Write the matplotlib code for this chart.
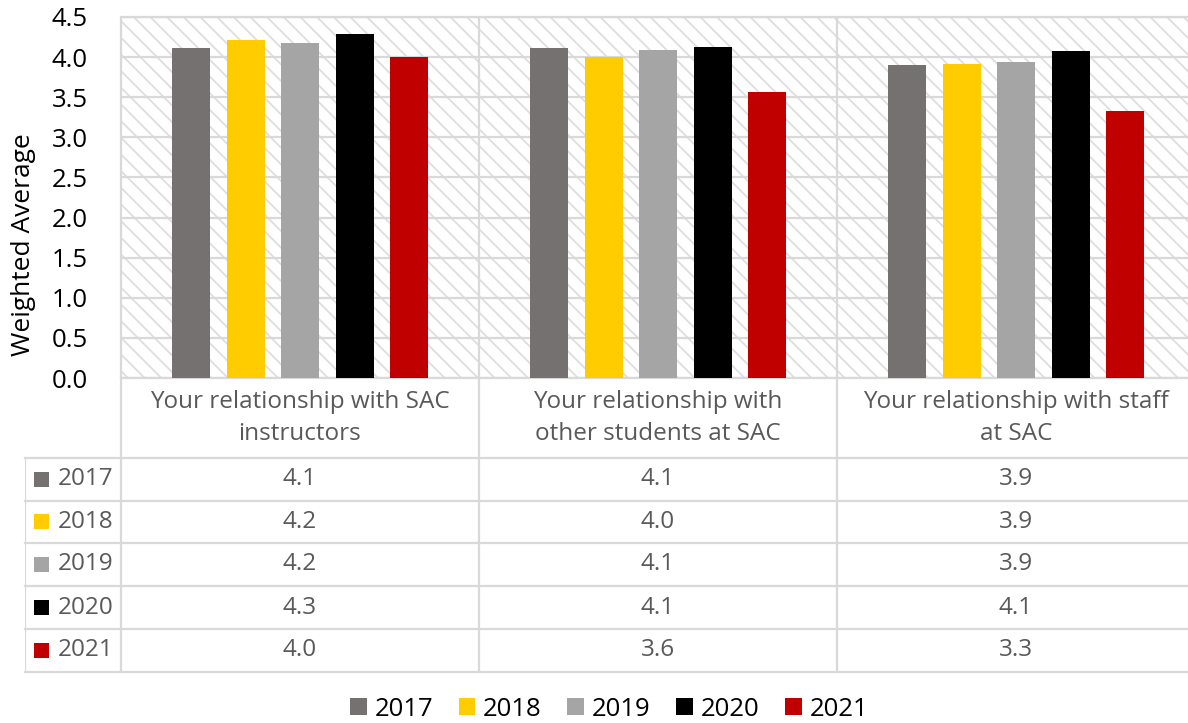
import numpy as np
import matplotlib
matplotlib.use("Agg")
import matplotlib.pyplot as plt
from matplotlib.patches import Rectangle

# data
categories = ["Your relationship with SAC\ninstructors",
              "Your relationship with\nother students at SAC",
              "Your relationship with staff\nat SAC"]
years = ["2017", "2018", "2019", "2020", "2021"]
v2017 = [4.11, 4.11, 3.90]
v2018 = [4.21, 4.00, 3.91]
v2019 = [4.17, 4.09, 3.94]
v2020 = [4.29, 4.12, 4.08]
v2021 = [4.00, 3.57, 3.33]
series = [v2017, v2018, v2019, v2020, v2021]
colors = ["#767171", "#FFCC00", "#A5A5A5", "#000000", "#C00000"]

plt.rcParams["font.family"] = ["Open Sans", "DejaVu Sans"]
plt.rcParams["hatch.linewidth"] = 1.3
plt.rcParams["hatch.color"] = "#DEDEDE"

W, H = 1188, 723
fig = plt.figure(figsize=(W / 100, H / 100), dpi=100)

# pixel layout
px_left, px_right, px_top, px_axis = 121, 1195, 17, 378
px_tab_left, px_tab_bottom = 25, 672
col_w = (px_right - px_left) / 3
fs_big, fs_tab = 18.5, 17.5

ax = fig.add_axes([px_left / W, 1 - px_axis / H, (px_right - px_left) / W, (px_axis - px_top) / H])
ax.set_xlim(-0.5, 2.5)
ax.set_ylim(0, 4.5)

# hatched plot area background
ax.add_patch(Rectangle((0, 0), 1, 1, transform=ax.transAxes, facecolor="white",
                       edgecolor="#DEDEDE", hatch="\\\\", linewidth=0, zorder=0))
ax.set_yticks(np.arange(0, 4.51, 0.5))
ax.yaxis.grid(True, color="#D9D9D9", linewidth=1.6, zorder=1)
ax.set_axisbelow(True)
for b in [0.5, 1.5]:
    ax.axvline(b, color="#D9D9D9", linewidth=1.6, zorder=1)
for s in ["top", "left", "right", "bottom"]:
    ax.spines[s].set_color("#D9D9D9")
    ax.spines[s].set_linewidth(1.6)
ax.tick_params(axis="y", length=0, labelsize=fs_big, pad=24, labelcolor="black")
ax.set_yticklabels([f"{t:.1f}" for t in np.arange(0, 4.51, 0.5)])
ax.set_xticks([])
ax.set_ylabel("Weighted Average", fontsize=19)
ax.yaxis.set_label_coords(-(px_left - 36) / (px_right - px_left), (px_axis - 245) / (px_axis - px_top))

x = np.arange(len(categories))
bw = 38 / col_w
step = 54.5 / col_w
handles = []
for i, (vals, c, yr) in enumerate(zip(series, colors, years)):
    h = ax.bar(x + (i - 2) * step, vals, width=bw, color=c, label=yr, zorder=3)
    handles.append(h)

# data table below
tab = fig.add_axes([px_tab_left / W, 1 - px_tab_bottom / H,
                    (px_right - px_tab_left) / W, (px_tab_bottom - px_axis) / H])
left_data = -0.5 - (px_left - px_tab_left) / col_w
tab.set_xlim(left_data, 2.5)
tab.set_ylim(px_tab_bottom, px_axis)
tab.axis("off")
row_edges = [458, 500.5, 543, 586, 629, 672]
gc = "#D9D9D9"
for y in row_edges:
    tab.plot([left_data, 2.6], [y, y], color=gc, lw=1.6, clip_on=False)
tab.plot([left_data, left_data], [row_edges[0], row_edges[-1]], color=gc, lw=1.6)
for b in [-0.5, 0.5, 1.5]:
    tab.plot([b, b], [px_axis, row_edges[-1]], color=gc, lw=1.6)

txt = "#595959"
for j, cat in enumerate(categories):
    tab.text(j, (px_axis + row_edges[0]) / 2, cat, ha="center", va="center",
             fontsize=fs_tab, color=txt, linespacing=1.4)
for i, (vals, c, yr) in enumerate(zip(series, colors, years)):
    yc = (row_edges[i] + row_edges[i + 1]) / 2
    kx = left_data + 9 / col_w
    tab.add_patch(Rectangle((kx, yc - 7.5), 15 / col_w, 15, facecolor=c, edgecolor="none"))
    tab.text(left_data + 33 / col_w, yc, yr, ha="left", va="center", fontsize=fs_tab, color=txt)
    for j, v in enumerate(vals):
        tab.text(j, yc, f"{v:.1f}", ha="center", va="center", fontsize=fs_tab, color=txt)

fig.legend(handles=handles, labels=years, loc="center", bbox_to_anchor=(609 / W, 1 - 709 / H),
           ncol=5, frameon=False, fontsize=fs_big, handlelength=0.65, handleheight=0.65,
           handletextpad=0.3, columnspacing=1.0)

fig.savefig("out.png", dpi=100)
